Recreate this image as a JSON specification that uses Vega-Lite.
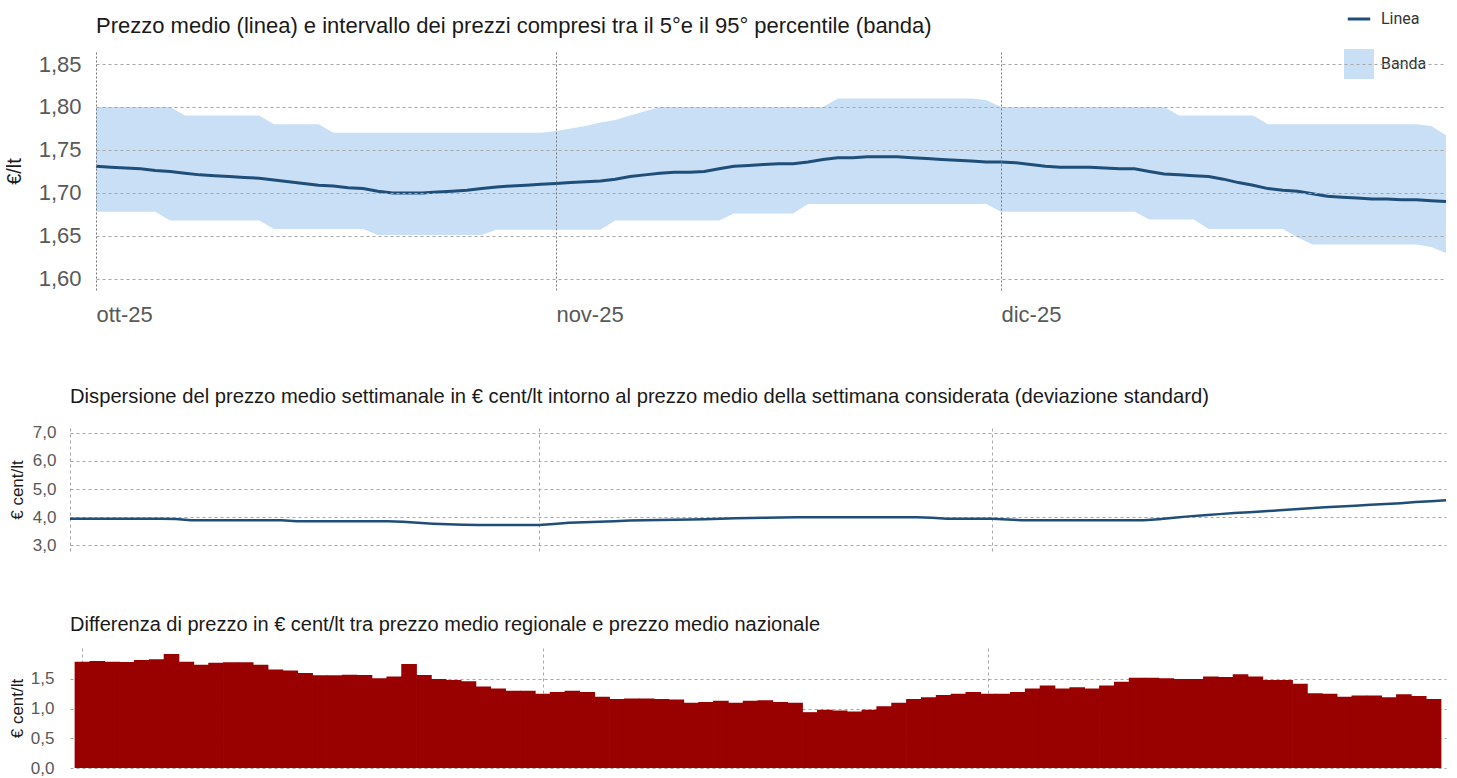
{
"$schema": "https://vega.github.io/schema/vega-lite/v6.json",
"background": "white",
"padding": {"left": 4, "top": 3, "right": 5, "bottom": 0},
"data": {"values": [
{"d":"2025-10-01","m":1.731,"lo":1.678,"hi":1.80,"sd":3.95,"df":1.79},
{"d":"2025-10-02","m":1.730,"lo":1.678,"hi":1.80,"sd":3.95,"df":1.80},
{"d":"2025-10-03","m":1.729,"lo":1.678,"hi":1.80,"sd":3.95,"df":1.79},
{"d":"2025-10-04","m":1.728,"lo":1.678,"hi":1.80,"sd":3.95,"df":1.785},
{"d":"2025-10-05","m":1.726,"lo":1.678,"hi":1.80,"sd":3.95,"df":1.82},
{"d":"2025-10-06","m":1.725,"lo":1.668,"hi":1.80,"sd":3.95,"df":1.83},
{"d":"2025-10-07","m":1.723,"lo":1.668,"hi":1.79,"sd":3.95,"df":1.92},
{"d":"2025-10-08","m":1.721,"lo":1.668,"hi":1.79,"sd":3.94,"df":1.79},
{"d":"2025-10-09","m":1.720,"lo":1.668,"hi":1.79,"sd":3.89,"df":1.74},
{"d":"2025-10-10","m":1.719,"lo":1.668,"hi":1.79,"sd":3.89,"df":1.77},
{"d":"2025-10-11","m":1.718,"lo":1.668,"hi":1.79,"sd":3.89,"df":1.78},
{"d":"2025-10-12","m":1.717,"lo":1.668,"hi":1.79,"sd":3.89,"df":1.78},
{"d":"2025-10-13","m":1.715,"lo":1.658,"hi":1.78,"sd":3.89,"df":1.74},
{"d":"2025-10-14","m":1.713,"lo":1.658,"hi":1.78,"sd":3.89,"df":1.66},
{"d":"2025-10-15","m":1.711,"lo":1.658,"hi":1.78,"sd":3.89,"df":1.64},
{"d":"2025-10-16","m":1.709,"lo":1.658,"hi":1.78,"sd":3.86,"df":1.60},
{"d":"2025-10-17","m":1.708,"lo":1.658,"hi":1.77,"sd":3.86,"df":1.56},
{"d":"2025-10-18","m":1.706,"lo":1.658,"hi":1.77,"sd":3.86,"df":1.56},
{"d":"2025-10-19","m":1.705,"lo":1.658,"hi":1.77,"sd":3.86,"df":1.57},
{"d":"2025-10-20","m":1.702,"lo":1.651,"hi":1.77,"sd":3.86,"df":1.565},
{"d":"2025-10-21","m":1.700,"lo":1.651,"hi":1.77,"sd":3.86,"df":1.51},
{"d":"2025-10-22","m":1.700,"lo":1.651,"hi":1.77,"sd":3.86,"df":1.54},
{"d":"2025-10-23","m":1.700,"lo":1.651,"hi":1.77,"sd":3.84,"df":1.75},
{"d":"2025-10-24","m":1.701,"lo":1.651,"hi":1.77,"sd":3.80,"df":1.565},
{"d":"2025-10-25","m":1.702,"lo":1.651,"hi":1.77,"sd":3.77,"df":1.50},
{"d":"2025-10-26","m":1.703,"lo":1.651,"hi":1.77,"sd":3.75,"df":1.48},
{"d":"2025-10-27","m":1.705,"lo":1.651,"hi":1.77,"sd":3.73,"df":1.46},
{"d":"2025-10-28","m":1.707,"lo":1.657,"hi":1.77,"sd":3.72,"df":1.37},
{"d":"2025-10-29","m":1.708,"lo":1.657,"hi":1.77,"sd":3.72,"df":1.34},
{"d":"2025-10-30","m":1.709,"lo":1.657,"hi":1.77,"sd":3.72,"df":1.30},
{"d":"2025-10-31","m":1.710,"lo":1.657,"hi":1.77,"sd":3.72,"df":1.30},
{"d":"2025-11-01","m":1.711,"lo":1.657,"hi":1.772,"sd":3.72,"df":1.25},
{"d":"2025-11-02","m":1.712,"lo":1.657,"hi":1.775,"sd":3.76,"df":1.28},
{"d":"2025-11-03","m":1.713,"lo":1.657,"hi":1.778,"sd":3.80,"df":1.30},
{"d":"2025-11-04","m":1.714,"lo":1.657,"hi":1.782,"sd":3.82,"df":1.28},
{"d":"2025-11-05","m":1.716,"lo":1.668,"hi":1.785,"sd":3.84,"df":1.20},
{"d":"2025-11-06","m":1.719,"lo":1.668,"hi":1.79,"sd":3.86,"df":1.16},
{"d":"2025-11-07","m":1.721,"lo":1.668,"hi":1.795,"sd":3.88,"df":1.17},
{"d":"2025-11-08","m":1.723,"lo":1.668,"hi":1.80,"sd":3.89,"df":1.17},
{"d":"2025-11-09","m":1.724,"lo":1.668,"hi":1.80,"sd":3.90,"df":1.16},
{"d":"2025-11-10","m":1.724,"lo":1.668,"hi":1.80,"sd":3.91,"df":1.155},
{"d":"2025-11-11","m":1.725,"lo":1.668,"hi":1.80,"sd":3.92,"df":1.10},
{"d":"2025-11-12","m":1.728,"lo":1.668,"hi":1.80,"sd":3.93,"df":1.11},
{"d":"2025-11-13","m":1.731,"lo":1.676,"hi":1.80,"sd":3.945,"df":1.13},
{"d":"2025-11-14","m":1.732,"lo":1.676,"hi":1.80,"sd":3.96,"df":1.10},
{"d":"2025-11-15","m":1.733,"lo":1.676,"hi":1.80,"sd":3.97,"df":1.13},
{"d":"2025-11-16","m":1.734,"lo":1.676,"hi":1.80,"sd":3.98,"df":1.14},
{"d":"2025-11-17","m":1.734,"lo":1.676,"hi":1.80,"sd":3.99,"df":1.11},
{"d":"2025-11-18","m":1.736,"lo":1.687,"hi":1.80,"sd":4.00,"df":1.10},
{"d":"2025-11-19","m":1.739,"lo":1.687,"hi":1.80,"sd":4.00,"df":0.94},
{"d":"2025-11-20","m":1.741,"lo":1.687,"hi":1.81,"sd":4.00,"df":0.98},
{"d":"2025-11-21","m":1.741,"lo":1.687,"hi":1.81,"sd":4.00,"df":0.97},
{"d":"2025-11-22","m":1.742,"lo":1.687,"hi":1.81,"sd":4.00,"df":0.95},
{"d":"2025-11-23","m":1.742,"lo":1.687,"hi":1.81,"sd":4.00,"df":0.98},
{"d":"2025-11-24","m":1.742,"lo":1.687,"hi":1.81,"sd":4.00,"df":1.04},
{"d":"2025-11-25","m":1.741,"lo":1.687,"hi":1.81,"sd":4.00,"df":1.10},
{"d":"2025-11-26","m":1.740,"lo":1.687,"hi":1.81,"sd":4.00,"df":1.16},
{"d":"2025-11-27","m":1.739,"lo":1.687,"hi":1.81,"sd":3.98,"df":1.19},
{"d":"2025-11-28","m":1.738,"lo":1.687,"hi":1.81,"sd":3.95,"df":1.23},
{"d":"2025-11-29","m":1.737,"lo":1.687,"hi":1.81,"sd":3.95,"df":1.25},
{"d":"2025-11-30","m":1.736,"lo":1.687,"hi":1.808,"sd":3.95,"df":1.28},
{"d":"2025-12-01","m":1.736,"lo":1.678,"hi":1.80,"sd":3.95,"df":1.25},
{"d":"2025-12-02","m":1.735,"lo":1.678,"hi":1.80,"sd":3.92,"df":1.25},
{"d":"2025-12-03","m":1.733,"lo":1.678,"hi":1.80,"sd":3.89,"df":1.28},
{"d":"2025-12-04","m":1.731,"lo":1.678,"hi":1.80,"sd":3.89,"df":1.34},
{"d":"2025-12-05","m":1.730,"lo":1.678,"hi":1.80,"sd":3.89,"df":1.39},
{"d":"2025-12-06","m":1.730,"lo":1.678,"hi":1.80,"sd":3.89,"df":1.34},
{"d":"2025-12-07","m":1.730,"lo":1.678,"hi":1.80,"sd":3.89,"df":1.36},
{"d":"2025-12-08","m":1.729,"lo":1.678,"hi":1.80,"sd":3.89,"df":1.34},
{"d":"2025-12-09","m":1.728,"lo":1.678,"hi":1.80,"sd":3.89,"df":1.39},
{"d":"2025-12-10","m":1.728,"lo":1.678,"hi":1.80,"sd":3.89,"df":1.45},
{"d":"2025-12-11","m":1.725,"lo":1.669,"hi":1.80,"sd":3.89,"df":1.52},
{"d":"2025-12-12","m":1.722,"lo":1.669,"hi":1.80,"sd":3.93,"df":1.52},
{"d":"2025-12-13","m":1.721,"lo":1.669,"hi":1.79,"sd":3.98,"df":1.51},
{"d":"2025-12-14","m":1.720,"lo":1.669,"hi":1.79,"sd":4.03,"df":1.50},
{"d":"2025-12-15","m":1.719,"lo":1.658,"hi":1.79,"sd":4.07,"df":1.50},
{"d":"2025-12-16","m":1.716,"lo":1.658,"hi":1.79,"sd":4.11,"df":1.54},
{"d":"2025-12-17","m":1.712,"lo":1.658,"hi":1.79,"sd":4.15,"df":1.53},
{"d":"2025-12-18","m":1.709,"lo":1.658,"hi":1.79,"sd":4.18,"df":1.58},
{"d":"2025-12-19","m":1.705,"lo":1.658,"hi":1.78,"sd":4.21,"df":1.54},
{"d":"2025-12-20","m":1.703,"lo":1.658,"hi":1.78,"sd":4.25,"df":1.48},
{"d":"2025-12-21","m":1.702,"lo":1.648,"hi":1.78,"sd":4.28,"df":1.48},
{"d":"2025-12-22","m":1.699,"lo":1.640,"hi":1.78,"sd":4.32,"df":1.42},
{"d":"2025-12-23","m":1.696,"lo":1.640,"hi":1.78,"sd":4.35,"df":1.26},
{"d":"2025-12-24","m":1.695,"lo":1.640,"hi":1.78,"sd":4.38,"df":1.25},
{"d":"2025-12-25","m":1.694,"lo":1.640,"hi":1.78,"sd":4.41,"df":1.20},
{"d":"2025-12-26","m":1.693,"lo":1.640,"hi":1.78,"sd":4.44,"df":1.22},
{"d":"2025-12-27","m":1.693,"lo":1.640,"hi":1.78,"sd":4.47,"df":1.22},
{"d":"2025-12-28","m":1.692,"lo":1.640,"hi":1.78,"sd":4.50,"df":1.19},
{"d":"2025-12-29","m":1.692,"lo":1.640,"hi":1.78,"sd":4.54,"df":1.24},
{"d":"2025-12-30","m":1.691,"lo":1.637,"hi":1.778,"sd":4.57,"df":1.21},
{"d":"2025-12-31","m":1.690,"lo":1.630,"hi":1.767,"sd":4.60,"df":1.16}
]},
"spacing": 61,
"resolve": {"scale": {"x": "independent", "y": "independent", "color": "independent"}, "axis": {"x": "independent", "y": "independent"}, "legend": {"color": "independent"}},
"vconcat": [
{
"hconcat": [
{"data": {"values": []}, "mark": {"type": "square", "opacity": 0}, "width": 6, "height": 1,
 "encoding": {"color": {"field": "k", "type": "nominal", "scale": {"domain": ["Linea", "Banda"], "range": ["#1f4e79", "#c9dff5"]},
  "legend": {"title": null, "orient": "none", "legendX": 1273, "legendY": -49, "symbolSize": 900, "symbolType": "square", "rowPadding": 19, "labelOffset": 6, "labelFont": "Roboto", "labelFontSize": 16, "labelColor": "#333333",
   "encode": {"symbols": {"update": {"shape": {"signal": "datum.value === 'Linea' ? 'M-0.75,-0.1H0.75V0.1H-0.75Z' : 'square'"}, "fill": {"signal": "datum.value === 'Linea' ? '#1f4e79' : '#c9dff5'"}, "stroke": {"value": "transparent"}, "opacity": {"value": 1}, "fillOpacity": {"value": 1}}}}}}}
},
{
"width": 1350, "height": 238,
"title": {"text": "Prezzo medio (linea) e intervallo dei prezzi compresi tra il 5°e il 95° percentile (banda)", "fontSize": 22, "offset": 14},
"encoding": {"x": {"field": "d", "type": "temporal",
  "scale": {"type": "utc", "domain": [{"year": 2025, "month": 10, "date": 1, "utc": true}, {"year": 2025, "month": 12, "date": 31, "utc": true}]},
  "axis": {"title": null, "values": [{"year": 2025, "month": 10, "date": 1, "utc": true}, {"year": 2025, "month": 11, "date": 1, "utc": true}, {"year": 2025, "month": 12, "date": 1, "utc": true}], "labelExpr": "utcFormat(datum.value, '%b-%y')", "labelAlign": "left", "labelFontSize": 22, "labelPadding": 14, "labelFlush": false, "grid": true, "gridColor": "#777777", "gridDash": [2, 2], "zindex": 1}}},
"layer": [
{"mark": {"type": "area", "color": "#c9dff5", "opacity": 1},
 "encoding": {
  "y": {"field": "lo", "type": "quantitative", "scale": {"domain": [1.587, 1.864], "nice": false, "zero": false},
    "axis": {"title": "€/lt", "titleFontSize": 20, "titleX": -72, "titleY": 119, "values": [1.6, 1.65, 1.7, 1.75, 1.8, 1.85], "format": ".2f", "labelFontSize": 22, "labelPadding": 15, "grid": true, "zindex": 1}},
  "y2": {"field": "hi"}
 }},
{"mark": {"type": "line", "strokeWidth": 3, "color": "#1f4e79"},
 "encoding": {
  "y": {"field": "m", "type": "quantitative", "scale": {"domain": [1.587, 1.864], "nice": false, "zero": false},
    "axis": {"title": "€/lt", "titleFontSize": 20, "titleX": -72, "titleY": 119, "values": [1.6, 1.65, 1.7, 1.75, 1.8, 1.85], "format": ".2f", "labelFontSize": 22, "labelPadding": 15, "grid": true, "zindex": 1}}
 }}
]
}
],
"spacing": 20,
"bounds": "flush",
"resolve": {"scale": {"x": "independent", "y": "independent", "color": "independent"}, "axis": {"x": "independent", "y": "independent"}, "legend": {"color": "independent"}}
},
{
"width": 1376, "height": 123,
"title": {"text": "Dispersione del prezzo medio settimanale in € cent/lt intorno al prezzo medio della settimana considerata (deviazione standard)", "fontSize": 20.2, "offset": 17},
"mark": {"type": "line", "strokeWidth": 2.5, "color": "#1f4e79"},
"encoding": {
 "x": {"field": "d", "type": "temporal",
  "scale": {"type": "utc", "domain": [{"year": 2025, "month": 10, "date": 1, "utc": true}, {"year": 2025, "month": 12, "date": 31, "utc": true}]},
  "axis": {"title": null, "labels": false, "values": [{"year": 2025, "month": 10, "date": 1, "utc": true}, {"year": 2025, "month": 11, "date": 1, "utc": true}, {"year": 2025, "month": 12, "date": 1, "utc": true}], "grid": true}},
 "y": {"field": "sd", "type": "quantitative", "scale": {"domain": [2.8, 7.17], "nice": false, "zero": false},
  "axis": {"title": "€ cent/lt", "titleFontSize": 17, "titleX": -44, "titleY": 61.5, "values": [3, 4, 5, 6, 7], "format": ".1f", "labelFontSize": 17, "labelPadding": 14, "grid": true}}
}
},
{
"width": 1376, "height": 120,
"title": {"text": "Differenza di prezzo in € cent/lt tra prezzo medio regionale e prezzo medio nazionale", "fontSize": 20, "offset": 13},
"mark": {"type": "bar", "width": 15.6, "color": "#990000"},
"encoding": {
 "x": {"field": "d", "type": "temporal",
  "scale": {"type": "utc", "domain": [{"year": 2025, "month": 9, "date": 30, "hours": 12, "utc": true}, {"year": 2025, "month": 12, "date": 31, "hours": 12, "utc": true}]},
  "axis": {"title": null, "labels": false, "values": [{"year": 2025, "month": 10, "date": 1, "utc": true}, {"year": 2025, "month": 11, "date": 1, "utc": true}, {"year": 2025, "month": 12, "date": 1, "utc": true}], "grid": true}},
 "y": {"field": "df", "type": "quantitative", "scale": {"domain": [0, 2.02], "nice": false},
  "axis": {"title": "€ cent/lt", "titleFontSize": 17, "titleX": -44, "titleY": 60, "values": [0, 0.5, 1, 1.5], "format": ".1f", "labelFontSize": 17, "labelPadding": 16, "grid": true}}
}
}
],
"config": {
 "font": "Liberation Sans",
 "view": {"stroke": null},
 "title": {"anchor": "start", "frame": "group", "font": "Liberation Sans", "fontWeight": "normal", "color": "#1a1a1a"},
 "axis": {"labelFont": "Liberation Sans", "titleFont": "Liberation Sans", "labelColor": "#595959", "titleColor": "#1a1a1a", "titleFontWeight": "normal", "ticks": false, "domain": false, "gridColor": "#a6a6a6", "gridDash": [3, 3], "gridWidth": 1},
 "locale": {
  "number": {"decimal": ",", "thousands": ".", "grouping": [3], "currency": ["€", ""]},
  "time": {"dateTime": "%A %e %B %Y, %X", "date": "%d/%m/%Y", "time": "%H:%M:%S", "periods": ["AM", "PM"],
   "days": ["domenica", "lunedì", "martedì", "mercoledì", "giovedì", "venerdì", "sabato"],
   "shortDays": ["dom", "lun", "mar", "mer", "gio", "ven", "sab"],
   "months": ["gennaio", "febbraio", "marzo", "aprile", "maggio", "giugno", "luglio", "agosto", "settembre", "ottobre", "novembre", "dicembre"],
   "shortMonths": ["gen", "feb", "mar", "apr", "mag", "giu", "lug", "ago", "set", "ott", "nov", "dic"]}
 }
}
}
